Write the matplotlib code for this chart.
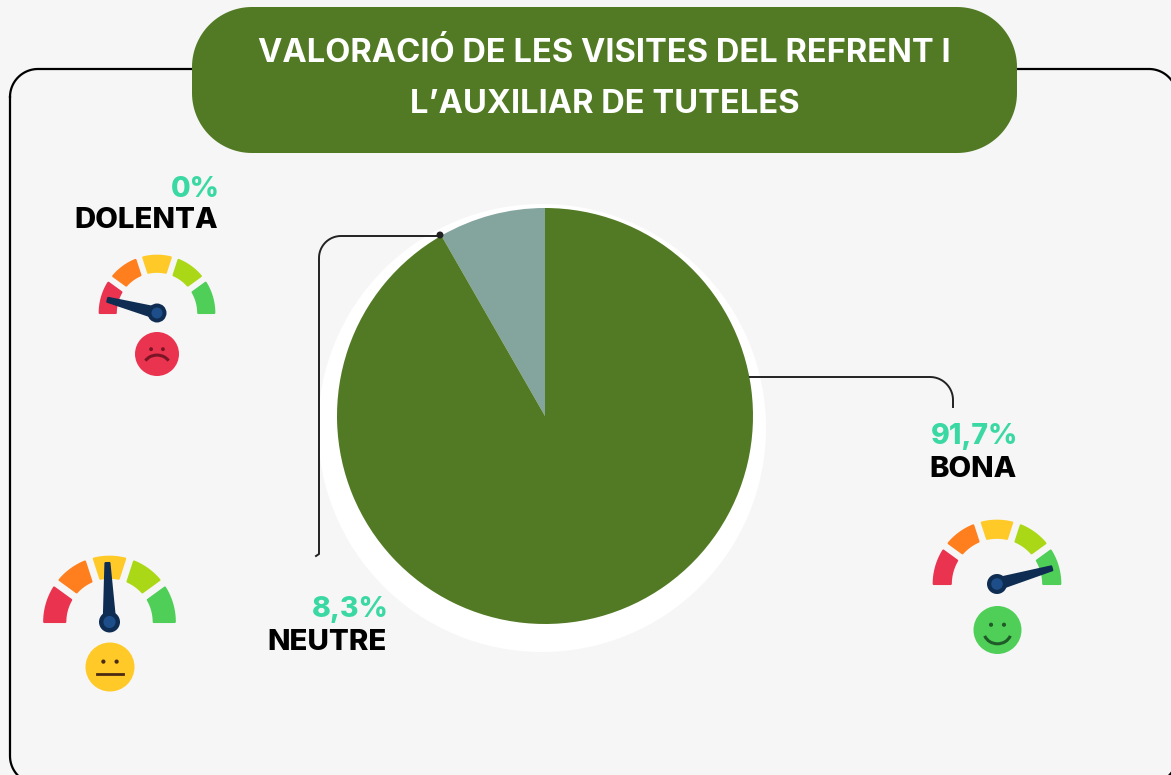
import numpy as np
import matplotlib
matplotlib.use('Agg')
import matplotlib.pyplot as plt
from matplotlib.patches import Circle, Polygon, Arc

# Data
labels = ['NEUTRE', 'BONA', 'DOLENTA']
shares = [8.3, 91.7, 0]
share_labels = ['8,3%', '91,7%', '0%']
title_lines = ['VALORACIÓ DE LES VISITES DEL REFRENT I', 'L’AUXILIAR DE TUTELES']
gauge_edges = [180, 144, 108, 72, 36, 0]
needle_angles = {'DOLENTA': 165, 'NEUTRE': 92, 'BONA': 16}

# Colours
bg = '#f6f6f6'
dark_green = '#527a24'
slice_grey = '#84a49e'
text_green = '#3ad8a3'
navy = '#0f2d52'
hub_blue = '#1d4e89'
band_colors = ['#e9334f', '#ff7f1f', '#ffca28', '#abd816', '#4fcf58']

W, H = 1171, 775
plt.rcParams['font.family'] = ['Inter', 'DejaVu Sans']

fig = plt.figure(figsize=(W / 100, H / 100), dpi=100, facecolor=bg)
ax = fig.add_axes([0, 0, 1, 1])


# y in the picture runs downwards
def Y(py):
    return H - py


# Closed outline of a rounded box with true circular corners
def rounded_box(x0, y0, x1, y1, r):
    t = np.linspace(0, np.pi / 2, 30)
    xs = np.r_[x0 + r - r * np.cos(t), x1 - r + r * np.sin(t), x1 - r + r * np.cos(t), x0 + r - r * np.sin(t), x0]
    ys = np.r_[y0 + r - r * np.sin(t), y0 + r - r * np.cos(t), y1 - r + r * np.sin(t), y1 - r + r * np.cos(t), y0 + r]
    return xs, ys


# Frame behind everything
fx, fy = rounded_box(10, 69, 1177, 784, 28)
ax.plot(fx, Y(fy), color='black', lw=1.6, zorder=1)

# Title pill
px, py = rounded_box(192, 7, 1017, 153, 60)
ax.fill(px, Y(py), color=dark_green, lw=0, zorder=2)
ax.text(604.5, Y(61.5), title_lines[0], color='white', fontsize=23.5, fontweight='bold',
        ha='center', va='baseline', zorder=3)
ax.text(605, Y(113), title_lines[1], color='white', fontsize=23.5, fontweight='bold',
        ha='center', va='baseline', zorder=3)

# White disc behind the pie
ax.add_patch(Circle((542, Y(428)), 224, fc='white', ec='none', zorder=1.5))

# Pie
wedges, _ = ax.pie(shares[:2], colors=[slice_grey, dark_green], startangle=90, counterclock=True,
                   center=(545, Y(416)), radius=208, frame=True)
for w in wedges:
    w.set_zorder(2)

ax.set_xlim(0, W)
ax.set_ylim(0, H)
ax.set_aspect('equal')
ax.axis('off')
ax.set_position([0, 0, 1, 1])

# Leader lines
t = np.linspace(0, np.pi / 2, 20)
x_right = np.r_[750, 930 + 23 * np.sin(t), 953]
y_right = np.r_[377, 400 - 23 * np.cos(t), 407]
ax.plot(x_right, Y(y_right), color='#222222', lw=1.4, zorder=4)
x_left = np.r_[440, 341 - 22 * np.sin(t), 319, 316]
y_left = np.r_[236, 258 - 22 * np.cos(t), 554, 556]
ax.plot(x_left, Y(y_left), color='#222222', lw=1.4, zorder=4)
ax.add_patch(Circle((440, Y(235)), 3.5, fc='#222222', ec='none', zorder=5))


# Labels
def label(x, py_pct, py_name, pct, name):
    ax.text(x + 1.5, Y(py_pct), pct, color=text_green, fontsize=20.5, fontweight=800,
            ha='right', va='baseline', zorder=4)
    ax.text(x, Y(py_name), name, color='black', fontsize=21.2, fontweight=800,
            ha='right', va='baseline', zorder=4)


label(218, 197, 228, share_labels[2], labels[2])
label(387, 617, 650, share_labels[0], labels[0])
label(1017, 444, 477, share_labels[1], labels[1])


# One gauge band, gaps between bands keep a constant width
def band(cx, cy, r_out, r_in, a_hi, a_lo, c, gap):
    d_hi_o = 0 if a_hi == 180 else np.degrees(gap / r_out)
    d_hi_i = 0 if a_hi == 180 else np.degrees(gap / r_in)
    d_lo_o = 0 if a_lo == 0 else np.degrees(gap / r_out)
    d_lo_i = 0 if a_lo == 0 else np.degrees(gap / r_in)
    ao = np.radians(np.linspace(a_hi - d_hi_o, a_lo + d_lo_o, 30))
    ai = np.radians(np.linspace(a_lo + d_lo_i, a_hi - d_hi_i, 30))
    xs = np.r_[cx + r_out * np.cos(ao), cx + r_in * np.cos(ai)]
    ys = np.r_[cy + r_out * np.sin(ao), cy + r_in * np.sin(ai)]
    ax.add_patch(Polygon(np.c_[xs, ys], fc=c, ec=c, lw=1.5, joinstyle='round', zorder=3))


def gauge(cx, py_base, r_out, r_in, angle, hub_r):
    cy = Y(py_base)
    for i, c in enumerate(band_colors):
        band(cx, cy, r_out - 0.7, r_in + 0.7, gauge_edges[i], gauge_edges[i + 1], c, 0.07 * r_out)
    a = np.radians(angle)
    ux, uy = np.cos(a), np.sin(a)
    length = r_out - 7
    nx, ny = -uy, ux
    ax.add_patch(Polygon([(cx + nx * hub_r * 0.55, cy + ny * hub_r * 0.55),
                          (cx + ux * length + nx * 2, cy + uy * length + ny * 2),
                          (cx + ux * length - nx * 2, cy + uy * length - ny * 2),
                          (cx - nx * hub_r * 0.55, cy - ny * hub_r * 0.55)],
                         fc=navy, ec=navy, lw=1.5, joinstyle='round', zorder=4))
    ax.add_patch(Circle((cx, cy), hub_r, fc=navy, ec='none', zorder=5))
    ax.add_patch(Circle((cx, cy), hub_r * 0.58, fc=hub_blue, ec='none', zorder=6))


gauge(157, 313, 58, 40.5, needle_angles['DOLENTA'], 9.5)
gauge(109.5, 622, 66, 43.5, needle_angles['NEUTRE'], 10.5)
gauge(997, 584, 64, 45.5, needle_angles['BONA'], 10)


# Faces
def face(cx, py_c, r, color, mood):
    cy = Y(py_c)
    ax.add_patch(Circle((cx, cy), r, fc=color, ec='none', zorder=3))
    ink = '#4a2a12' if mood == 'neutral' else ('#7a1526' if mood == 'sad' else '#1f5a28')
    for dx in (-0.27, 0.27):
        ax.add_patch(Circle((cx + dx * r, cy + 0.22 * r), 0.07 * r + 0.4, fc=ink, ec='none', zorder=4))
    if mood == 'neutral':
        ax.plot([cx - 0.55 * r, cx + 0.55 * r], [cy - 0.28 * r] * 2, color=ink, lw=2, zorder=4)
    elif mood == 'sad':
        ax.add_patch(Arc((cx, cy - 0.55 * r), 1.2 * r, 1.0 * r, theta1=25, theta2=155,
                         color=ink, lw=2.2, zorder=4))
    else:
        ax.add_patch(Arc((cx, cy - 0.05 * r), 1.15 * r, 1.05 * r, theta1=200, theta2=340,
                         color=ink, lw=2.2, zorder=4))


face(157, 354, 22, band_colors[0], 'sad')
face(110, 667, 24.5, band_colors[2], 'neutral')
face(997.5, 630, 24, band_colors[4], 'happy')

fig.savefig('out.png', dpi=100, facecolor=bg)
